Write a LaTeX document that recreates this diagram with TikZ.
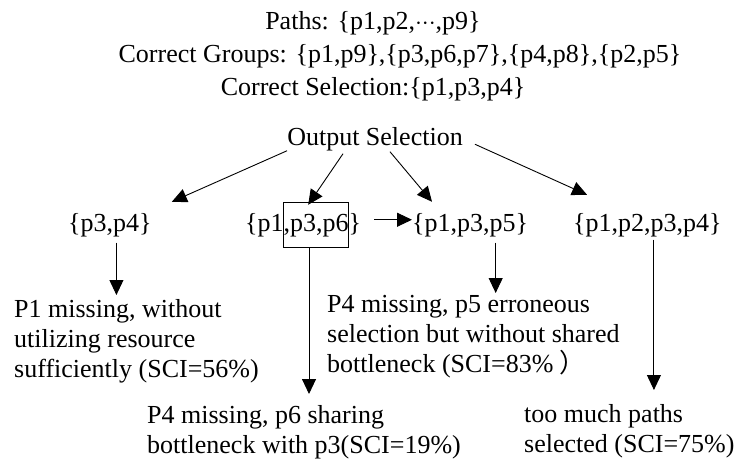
\documentclass[tikz,border=0pt]{standalone}
\usepackage{fontspec}
\setmainfont{Liberation Serif}
\newfontfamily\cjk{Noto Sans CJK SC}
\usetikzlibrary{arrows.meta}
\begin{document}
\begin{tikzpicture}[x=1pt,y=-1pt,
  txt/.style={inner sep=0pt, font=\fontsize{26}{30}\selectfont},
  blk/.style={txt, align=left, anchor=north west},
  arr/.style={-{Triangle[length=15pt,width=14pt]}, line width=0.9pt},
  selbox/.style={draw, line width=0.8pt, minimum width=65pt, minimum height=45pt, inner sep=0pt},
]
\useasboundingbox (0,0) rectangle (738,461);

% header lines
\node[txt,anchor=base] (paths) at (373,29) {Paths: \{p1,p2,${\cdot}{\cdot}{\cdot}$,p9\}};
\node[txt,anchor=base] (groups) at (400,62) {Correct Groups: \{p1,p9\},\{p3,p6,p7\},\{p4,p8\},\{p2,p5\}};
\node[txt,anchor=base] (corr) at (373,95) {Correct Selection:\{p1,p3,p4\}};
\node[txt,anchor=base] (out) at (375,145) {Output Selection};

% candidate selections
\node[txt,anchor=base west] (s1) at (68,231) {\{p3,p4\}};
\node[txt,anchor=base west] (s2) at (245,231) {\{p1,p3,p6\}};
\node[selbox] (sel) at (315.5,224.5) {};
\node[txt,anchor=base west] (s3) at (412,231) {\{p1,p3,p5\}};
\node[txt,anchor=base west] (s4) at (573,231) {\{p1,p2,p3,p4\}};

% explanations
\node[blk] (r1) at (14,299) {P1 missing, without\\utilizing resource\\sufficiently (SCI=56\%)};
\node[blk] (r3) at (327,295) {P4 missing, p5 erroneous\\selection but without shared\\bottleneck (SCI=83\% {\cjk ）}};
\node[blk] (r2) at (147,405) {P4 missing, p6 sharing\\bottleneck with p3(SCI=19\%)};
\node[blk] (r4) at (524,404) {too much paths\\selected (SCI=75\%)};

% arrows from the output selection
\draw[arr] (out.south west) -- ([xshift=20pt,yshift=11pt]s1.north east);
\draw[arr] ([xshift=-32pt,yshift=-3pt]out.south) -- ([xshift=5pt,yshift=8pt]s2.north);
\draw[arr] ([xshift=15pt,yshift=-1pt]out.south) -- ([xshift=20pt,yshift=11pt]s3.north west);
\draw[arr] ([xshift=12pt,yshift=-5.5pt]out.east) -- ([xshift=14pt,yshift=18pt]s4.north west);
\draw[arr] ([xshift=13pt,yshift=5pt]s2.east) -- ([yshift=5pt]s3.west);

% arrows to the explanations
\draw[arr] ([xshift=6.5pt,yshift=-6pt]s1.south) -- ([xshift=6.5pt,yshift=4pt]s1.south |- r1.north);
\draw[arr] ([xshift=-6.5pt]sel.south) -- ([xshift=-6.5pt,yshift=11pt]sel.south |- r2.north);
\draw[arr] ([xshift=25.5pt,yshift=-6pt]s3.south) -- ([xshift=25.5pt,yshift=2pt]s3.south |- r3.north);
\draw[arr] ([xshift=6.5pt,yshift=-3pt]s4.south) -- ([xshift=6.5pt,yshift=14pt]s4.south |- r4.north);
\end{tikzpicture}
\end{document}
